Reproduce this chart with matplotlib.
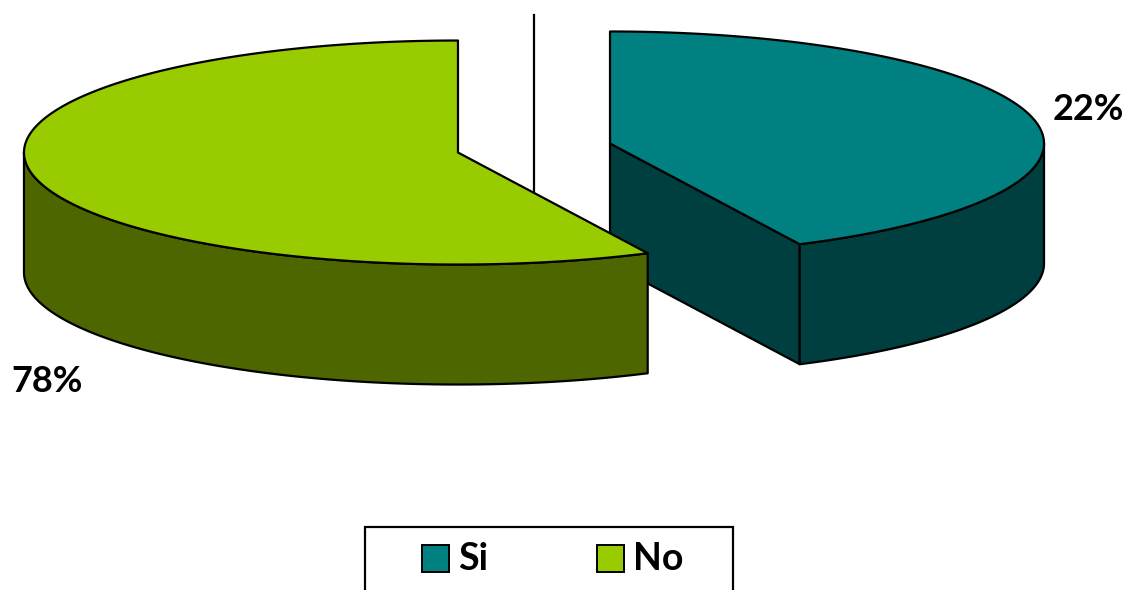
import numpy as np
import matplotlib.pyplot as plt
from matplotlib.patches import Polygon, Rectangle

# data
labels = ['Si', 'No']
pct_labels = [22, 78]             # percentages printed on the chart
drawn_share = [0.428, 0.572]      # slice sizes as drawn in the source picture
top_colors = ['#008080', '#99CC00']
side_colors = ['#003F3F', '#4D6600']

# 3D pie geometry (pixel space, y down)
cx, cy = 534, 148
a, b = 434, 112
depth = 120
explode = 78
start_angle = 90

plt.rcParams['font.family'] = ['Lato', 'DejaVu Sans']

fig = plt.figure(figsize=(11.41, 5.9), dpi=100)
ax = fig.add_axes([0, 0, 1, 1])
ax.set_xlim(0, 1141)
ax.set_ylim(590, 0)
ax.axis('off')


def pt(ox, oy, th, dz=0):
    r = np.radians(th)
    return ox + a * np.cos(r), oy - b * np.sin(r) + dz


def arc(ox, oy, t1, t2, dz=0, n=120):
    th = np.radians(np.linspace(t1, t2, n))
    return np.column_stack([ox + a * np.cos(th), oy - b * np.sin(th) + dz])


# compute slices (clockwise from the top)
slices = []
t = start_angle
for i, s in enumerate(drawn_share):
    t1, t2 = t, t - 360 * s
    mid = np.radians((t1 + t2) / 2)
    ox = cx + explode * np.cos(mid)
    oy = cy - explode * (b / a) * np.sin(mid)
    slices.append((i, t1, t2, ox, oy))
    t = t2

# vertical centre line behind the pie
ax.plot([cx, cx], [15, 192], color='black', lw=1.6, zorder=1)

kw = dict(edgecolor='black', lw=1.6, joinstyle='round')
order = [0, 1]
for z, idx in enumerate(order):
    i, t1, t2, ox, oy = slices[idx]
    base = 2 + z * 3
    # cut faces
    for th, nrm in ((t1, t1 + 90), (t2, t2 - 90)):
        if np.sin(np.radians(nrm)) < -1e-6:
            p = pt(ox, oy, th)
            face = [(ox, oy), p, (p[0], p[1] + depth), (ox, oy + depth)]
            ax.add_patch(Polygon(face, closed=True, facecolor=side_colors[i], zorder=base, **kw))
    # outer visible side (front half)
    lo, hi = min(t1, t2), max(t1, t2)
    segs = []
    for k in range(-2, 2):
        s1, s2 = max(lo, 180 + 360 * k), min(hi, 360 + 360 * k)
        if s2 > s1:
            segs.append((s1, s2))
    for s1, s2 in segs:
        topc = arc(ox, oy, s1, s2)
        botc = arc(ox, oy, s2, s1, dz=depth)
        ax.add_patch(Polygon(np.vstack([topc, botc]), closed=True,
                             facecolor=side_colors[i], zorder=base + 1, **kw))
    # top face
    topc = arc(ox, oy, t1, t2, n=300)
    ax.add_patch(Polygon(np.vstack([[ox, oy], topc]), closed=True,
                         facecolor=top_colors[i], zorder=base + 2, **kw))

# percentage labels
ax.text(1088, 109, f'{pct_labels[0]}%', fontsize=26, fontweight='bold',
        ha='center', va='center', zorder=10)
ax.text(47, 381, f'{pct_labels[1]}%', fontsize=26, fontweight='bold',
        ha='center', va='center', zorder=10)

# legend box (bottom cut off by the figure edge)
ax.add_patch(Rectangle((365, 527), 368, 80, facecolor='white', edgecolor='black',
                       lw=1.6, clip_on=False, zorder=10))
legend_x = [422, 597]
for i, lab in enumerate(labels):
    ax.add_patch(Rectangle((legend_x[i], 545), 27, 27, facecolor=top_colors[i],
                           edgecolor='black', lw=1.4, zorder=11))
    ax.text(legend_x[i] + 36, 559, lab, fontsize=27, fontweight='bold',
            ha='left', va='center', zorder=11)

fig.savefig('out.png', dpi=100)
